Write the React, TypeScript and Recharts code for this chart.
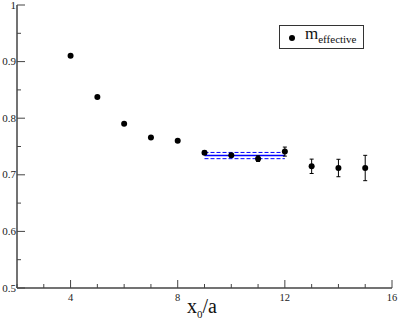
import { ComposedChart, Scatter, Line, XAxis, YAxis, ErrorBar } from "recharts";

const xValues = [4, 5, 6, 7, 8, 9, 10, 11, 12, 13, 14, 15];
const mEffective = [0.9105, 0.8375, 0.79, 0.766, 0.76, 0.739, 0.7345, 0.7285, 0.741, 0.715, 0.712, 0.712];
const mErrors = [0.001, 0.001, 0.001, 0.0015, 0.002, 0.003, 0.003, 0.005, 0.008, 0.0127, 0.0154, 0.0224];

const fitRange = [9, 12];
const fitCentral = 0.734;
const fitError = 0.0055;

const xTicks = [2, 3, 4, 5, 6, 7, 8, 9, 10, 11, 12, 13, 14, 15, 16];
const xLabels = [4, 8, 12, 16];
const yTicks = [0.5, 0.55, 0.6, 0.65, 0.7, 0.75, 0.8, 0.85, 0.9, 0.95, 1];
const yLabels = ["0.5", "0.6", "0.7", "0.8", "0.9", "1"];

const FRAME = "#444";
const FONT = '"Liberation Serif", "Times New Roman", serif';

function XTick(props: any) {
  const { x, y, payload, side } = props;
  const v = payload.value;
  const major = xLabels.includes(v);
  const len = major ? 8 : 4;
  const dir = side === "bottom" ? -1 : 1;
  return (
    <g>
      <line x1={x} x2={x} y1={y} y2={y + dir * len} stroke={FRAME} strokeWidth={1} />
      {side === "bottom" && major && (
        <text x={x} y={y + 13} textAnchor="middle" fontSize={10.5} fontFamily={FONT} fill="#222">
          {v}
        </text>
      )}
    </g>
  );
}

function YTick(props: any) {
  const { x, y, payload, side } = props;
  const v = payload.value;
  const label = yLabels.find((l) => Math.abs(parseFloat(l) - v) < 1e-6);
  const len = label ? 8 : 4;
  const dir = side === "left" ? 1 : -1;
  return (
    <g>
      <line x1={x} x2={x + dir * len} y1={y} y2={y} stroke={FRAME} strokeWidth={1} />
      {side === "left" && label && (
        <text x={x - 1} y={y + 3.5} textAnchor="end" fontSize={11} fontFamily={FONT} fill="#222">
          {label}
        </text>
      )}
    </g>
  );
}

const dot = (p: any) => <circle cx={p.cx} cy={p.cy} r={3} fill="#000" />;

export default function App() {
  const points = xValues.map((x, i) => ({ x, y: mEffective[i], err: mErrors[i] }));
  const fitMid = fitRange.map((x) => ({ x, y: fitCentral }));
  const fitHi = fitRange.map((x) => ({ x, y: fitCentral + fitError }));
  const fitLo = fitRange.map((x) => ({ x, y: fitCentral - fitError }));

  return (
    <div style={{ position: "absolute", left: 0, top: 0, width: 398, height: 327, background: "#fff" }}>
      <ComposedChart width={398} height={327} margin={{ top: 5, right: 6, bottom: 0, left: 0 }}>
        <XAxis
          xAxisId="b"
          dataKey="x"
          type="number"
          domain={[2, 16]}
          ticks={xTicks}
          interval={0}
          tickSize={0}
          tickMargin={0}
          tickLine={false}
          axisLine={{ stroke: FRAME, strokeWidth: 1.5 }}
          tick={<XTick side="bottom" />}
          height={39}
          allowDataOverflow
        />
        <XAxis
          xAxisId="t"
          orientation="top"
          type="number"
          domain={[2, 16]}
          ticks={xTicks}
          interval={0}
          tickSize={0}
          tickMargin={0}
          tickLine={false}
          axisLine={{ stroke: FRAME, strokeWidth: 1.5 }}
          tick={<XTick side="top" />}
          height={0}
          allowDataOverflow
        />
        <YAxis
          yAxisId="l"
          dataKey="y"
          type="number"
          domain={[0.5, 1]}
          ticks={yTicks}
          interval={0}
          tickSize={0}
          tickMargin={0}
          tickLine={false}
          axisLine={{ stroke: FRAME, strokeWidth: 1.5 }}
          tick={<YTick side="left" />}
          width={17}
          allowDataOverflow
        />
        <YAxis
          yAxisId="r"
          orientation="right"
          type="number"
          domain={[0.5, 1]}
          ticks={yTicks}
          interval={0}
          tickSize={0}
          tickMargin={0}
          tickLine={false}
          axisLine={{ stroke: FRAME, strokeWidth: 1.5 }}
          tick={<YTick side="right" />}
          width={0}
          allowDataOverflow
        />
        <Line xAxisId="b" yAxisId="l" data={fitHi} dataKey="y" stroke="#0000ff" strokeWidth={1} strokeDasharray="4 2" dot={false} isAnimationActive={false} />
        <Line xAxisId="b" yAxisId="l" data={fitLo} dataKey="y" stroke="#0000ff" strokeWidth={1} strokeDasharray="4 2" dot={false} isAnimationActive={false} />
        <Line xAxisId="b" yAxisId="l" data={fitMid} dataKey="y" stroke="#0000ff" strokeWidth={1.5} dot={false} isAnimationActive={false} />
        <Scatter xAxisId="b" yAxisId="l" data={points} dataKey="y" shape={dot} isAnimationActive={false}>
          <ErrorBar dataKey="err" direction="y" width={2} stroke="#000" strokeWidth={1} />
        </Scatter>
      </ComposedChart>
      <div
        style={{
          position: "absolute",
          left: 187,
          top: 296,
          fontFamily: FONT,
          fontSize: 20,
          color: "#111",
          whiteSpace: "nowrap",
          lineHeight: "20px",
        }}
      >
        x<sub style={{ fontSize: 11 }}>0</sub>/a
      </div>
      <div
        style={{
          position: "absolute",
          left: 279,
          top: 25,
          width: 83,
          height: 22,
          border: "1px solid #333",
          background: "#fff",
          fontFamily: FONT,
          color: "#111",
        }}
      >
        <span
          style={{ position: "absolute", left: 9, top: 9, width: 6, height: 6, borderRadius: 3, background: "#000" }}
        />
        <span style={{ position: "absolute", left: 25, top: -1, fontSize: 17, lineHeight: "17px", whiteSpace: "nowrap" }}>
          m<sub style={{ fontSize: 11 }}>effective</sub>
        </span>
      </div>
    </div>
  );
}
